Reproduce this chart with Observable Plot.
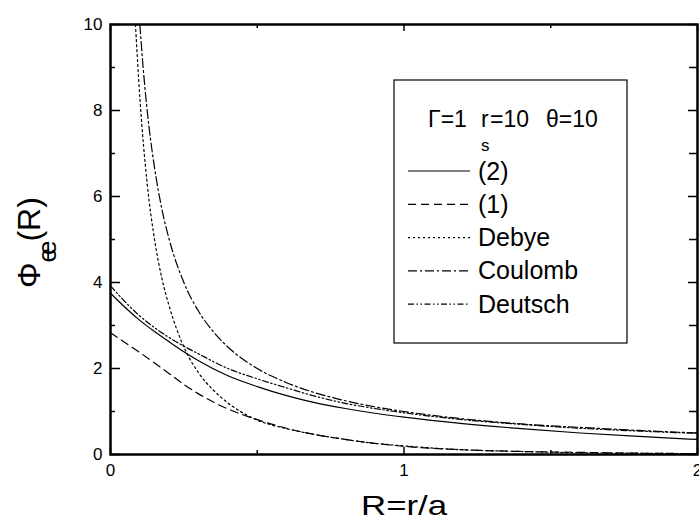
<!DOCTYPE html>
<html><head><meta charset="utf-8">
<script src="https://cdn.jsdelivr.net/npm/d3@7"></script>
<script src="https://cdn.jsdelivr.net/npm/@observablehq/plot@0.6"></script>
<style>
body{margin:0;background:#fff}
svg{font-family:"Liberation Sans",Arial,sans-serif}
</style>
</head><body><div id="chart"></div>
<script>
// ---- data ----
const R_grid = [0,0.05,0.1,0.15,0.2,0.25,0.3,0.4,0.5,0.6,0.7,0.8,0.9,1.0,1.2,1.4,1.6,1.8,2.0];
const phi_eq2 = [3.75,3.42,3.12,2.86,2.62,2.39,2.18,1.83,1.58,1.37,1.2,1.07,0.96,0.87,0.72,0.6,0.5,0.42,0.35];
const phi_eq1 = [2.83,2.6,2.37,2.13,1.88,1.63,1.41,1.06,0.81,0.61,0.46,0.35,0.26,0.19,0.11,0.07,0.05,0.03,0.02];
const phi_deutsch = [3.92,3.55,3.22,2.95,2.72,2.52,2.34,2.0,1.76,1.55,1.35,1.19,1.07,0.97,0.81,0.7,0.61,0.545,0.49];
const R_debye = [0.085,0.1,0.125,0.15,0.175,0.2,0.25,0.3,0.35,0.4,0.5,0.6,0.7,0.8,0.9,1.0,1.2,1.4,1.6,1.8,2.0];
const phi_debye = [10,8.3,6.3,5.0,4.1,3.45,2.5,1.9,1.5,1.2,0.8,0.6,0.46,0.35,0.26,0.2,0.11,0.07,0.04,0.03,0.02];
const R_coulomb = [0.1,0.11,0.125,0.15,0.175,0.2,0.25,0.3,0.35,0.4,0.5,0.6,0.7,0.8,0.9,1.0,1.2,1.4,1.6,1.8,2.0];
const phi_coulomb = [10,9.1,8.0,6.67,5.71,5.0,4.0,3.33,2.86,2.5,2.0,1.67,1.43,1.25,1.11,1.0,0.83,0.71,0.63,0.56,0.5];
const seriesNames = ["(2)","(1)","Debye","Coulomb","Deutsch"];
const xMajor = [0,1,2], xMinor = [0.5,1.5];
const yMajor = [0,2,4,6,8,10], yMinor = [1,3,5,7,9];
const legendTitle = ["Γ=1", "r", "s", "=10", "θ=10"];
const xTitle = "R=r/a";
const yTitle = ["Φ", "ee", "(R)"];

// ---- styles ----
const dashes = {"(2)": null, "(1)": "8,5", "Debye": "2,3", "Coulomb": "9,3,2,3", "Deutsch": "6,2.5,1.5,2.5,1.5,2.5"};

const toRows = (xs, ys, name) => xs.map((x, i) => ({x, y: ys[i], name}));
const data = {
  "(2)": toRows(R_grid, phi_eq2, "(2)"),
  "(1)": toRows(R_grid, phi_eq1, "(1)"),
  "Debye": toRows(R_debye, phi_debye, "Debye"),
  "Coulomb": toRows(R_coulomb, phi_coulomb, "Coulomb"),
  "Deutsch": toRows(R_grid, phi_deutsch, "Deutsch")
};

const W = 699, H = 522, mL = 110, mR = 2, mT = 24, mB = 68;
const iw = W - mL - mR, ih = H - mT - mB;
const tk = {stroke: "#000", strokeWidth: 1.5};
const chart = Plot.plot({
  width: W, height: H,
  marginLeft: mL, marginRight: mR, marginTop: mT, marginBottom: mB,
  x: {domain: [0, 2], axis: null},
  y: {domain: [0, 10], axis: null},
  style: {fontFamily: "Liberation Sans, Arial, sans-serif", fontSize: "17px", color: "#000", background: "#fff"},
  marks: [
    ...seriesNames.map(n => Plot.line(data[n], {x: "x", y: "y", stroke: "#000", strokeWidth: 1.2,
      strokeDasharray: dashes[n], curve: "monotone-x", clip: true})),
    // inward ticks on all four sides
    Plot.tickY(yMajor, {y: d => d, insetRight: iw - 10, ...tk}),
    Plot.tickY(yMinor, {y: d => d, insetRight: iw - 5, ...tk}),
    Plot.tickY(yMajor, {y: d => d, insetLeft: iw - 9, ...tk}),
    Plot.tickY(yMinor, {y: d => d, insetLeft: iw - 8, ...tk}),
    Plot.tickX(xMajor, {x: d => d, insetTop: ih - 7, ...tk}),
    Plot.tickX(xMinor, {x: d => d, insetTop: ih - 4, ...tk}),
    Plot.tickX(xMajor, {x: d => d, insetBottom: ih - 7, ...tk}),
    Plot.tickX(xMinor, {x: d => d, insetBottom: ih - 4, ...tk}),
    Plot.frame({stroke: "#000", strokeWidth: 2.5}),
    Plot.axisY(yMajor, {anchor: "left", tickSize: 0, tickPadding: 8, label: null, tickFormat: d => String(d), fontSize: 17}),
    Plot.axisX(xMajor, {anchor: "bottom", tickSize: 0, tickPadding: 9, label: null, tickFormat: d => String(d), fontSize: 17}),
    Plot.text([xTitle], {frameAnchor: "bottom", dy: 60, lineAnchor: "bottom", fontSize: 28, className: "xtitle"})
  ]
});
document.getElementById("chart").appendChild(chart);

const svg = d3.select(chart);
// widen the x title a little, as in the reference
svg.selectAll(".xtitle text").attr("textLength", 86).attr("lengthAdjust", "spacingAndGlyphs");

// ---- y-axis title with subscript ----
const yt = svg.append("text")
  .attr("transform", "translate(40,288) rotate(-90)")
  .attr("text-anchor", "start")
  .attr("font-size", 32).attr("fill", "#000");
yt.append("tspan").text(yTitle[0]);
yt.append("tspan").attr("font-size", 26).attr("dy", 16).attr("letter-spacing", -7).text(yTitle[1]);
yt.append("tspan").attr("dy", -16).attr("dx", 6).text(yTitle[2]);

// ---- legend ----
const lg = svg.append("g").attr("text-anchor", "start").attr("fill", "#000");
const boxL = 394, boxT = 80, boxR = 627, boxB = 343;
lg.append("rect").attr("x", boxL).attr("y", boxT).attr("width", boxR - boxL).attr("height", boxB - boxT)
  .attr("fill", "#fff").attr("stroke", "#000").attr("stroke-width", 1.2);
const tFont = 23, tBase = 127;
lg.append("text").attr("x", 428).attr("y", tBase).attr("font-size", tFont).text(legendTitle[0]);
lg.append("text").attr("x", 481).attr("y", tBase).attr("font-size", tFont).text(legendTitle[1]);
lg.append("text").attr("x", 481).attr("y", tBase + 24).attr("font-size", 17).text(legendTitle[2]);
lg.append("text").attr("x", 490).attr("y", tBase).attr("font-size", tFont).text(legendTitle[3]);
lg.append("text").attr("x", 546).attr("y", tBase).attr("font-size", tFont).text(legendTitle[4]);
seriesNames.forEach((n, i) => {
  const cy = 171 + i * 33.3;
  lg.append("line").attr("x1", 408).attr("x2", 470).attr("y1", cy).attr("y2", cy)
    .attr("stroke", "#000").attr("stroke-width", 1.2).attr("stroke-dasharray", dashes[n]);
  lg.append("text").attr("x", 478).attr("y", cy + 8.5).attr("font-size", 25).text(n);
});
</script>
</body></html>
